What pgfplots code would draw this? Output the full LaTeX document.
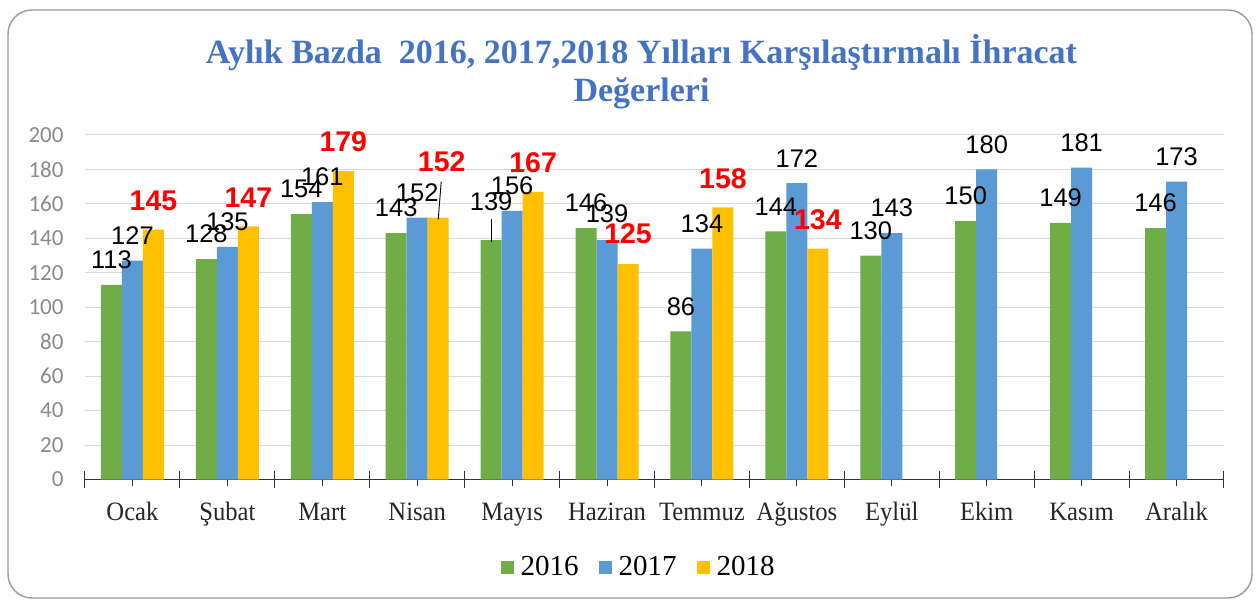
\documentclass[border=0pt]{standalone}
\usepackage{fontspec}
\usepackage{pgfplots}
\pgfplotsset{compat=1.18}
\usepackage{pgfplotstable}
\newfontfamily\labfont{Liberation Sans}
\newfontfamily\tickfont{Carlito}
\newfontfamily\catfont[FakeStretch=0.93]{Liberation Serif}
\newfontfamily\legfont{Liberation Serif}
\newfontfamily\titlefont{Liberation Serif}
\definecolor{g16}{HTML}{70AD47}
\definecolor{b17}{HTML}{5B9BD5}
\definecolor{y18}{HTML}{FFC000}
\definecolor{titleblue}{HTML}{4472C4}
\definecolor{tickgray}{HTML}{8A8A8A}
\definecolor{gridgray}{HTML}{D9D9D9}
\definecolor{labred}{HTML}{FF0000}

% x = month index, y = value, dx/dy = label offset (bp) from bar top
\pgfplotstableread{
x y dx dy
0 113 0 25
1 128 0 25
2 154 0 25
3 143 0 25
4 139 0 38
5 146 0 25
6 86 0 25
7 144 0 25
8 130 0 25
9 150 0 25
10 149 0 25
11 146 0 25
}\tabA
\pgfplotstableread{
x y dx dy
0 127 0 25
1 135 0 25
2 161 0 25
3 152 0 25
4 156 0 25
5 139 0 26
6 134 0 25
7 172 0 25
8 143 0 25
9 180 0 25
10 181 0 25
11 173 0 25
}\tabB
\pgfplotstableread{
x y dx dy
0 145 0 29
1 147 0 29
2 179 0 29
3 152 3.5 56
4 167 0 29
5 125 0 30
6 158 0 29
7 134 0 29
}\tabC

\begin{document}
\begin{tikzpicture}
\useasboundingbox (-85bp,-121.5bp) rectangle (1173bp,479.5bp);
\draw[rounded corners=24bp, color=black!40, line width=1.4bp] (-77bp,-118.5bp) rectangle (1167bp,469.5bp);
\begin{axis}[
  at={(0,0)}, anchor=south west,
  scale only axis, width=1139bp, height=344.5bp,
  xmin=-0.5, xmax=11.5, ymin=0, ymax=200,
  enlargelimits=false, clip=false,
  ybar=0pt, bar width=21bp,
  /pgf/number format/assume math mode=true,
  axis x line*=bottom, axis y line*=left,
  y axis line style={draw=none},
  x axis line style={black!80, line width=1bp},
  ymajorgrids, grid style={draw=gridgray, line width=1bp},
  ytick={0,20,...,200},
  ytick style={draw=none},
  xtick={0,...,11},
  xticklabels={Ocak,Şubat,Mart,Nisan,Mayıs,Haziran,Temmuz,Ağustos,Eylül,Ekim,Kasım,Aralık},
  minor xtick={-0.5,0.5,...,11.5},
  xtick align=center,
  major tick length=12bp, minor tick length=17bp,
  x tick style={black!80, line width=1bp},
  minor x tick style={black!80, line width=1bp},
  xticklabel style={font=\catfont\fontsize{26.5bp}{30bp}\selectfont, text=black!85, anchor=base, yshift=-35bp},
  yticklabel style={font=\tickfont\fontsize{23bp}{27bp}\selectfont, text=tickgray, anchor=east, xshift=-18bp},
  title={Aylık Bazda\ \ 2016, 2017,2018 Yılları Karşılaştırmalı İhracat\\Değerleri},
  title style={at={(0.4886,1.165)}, anchor=center, align=center,
    font=\titlefont\bfseries\fontsize{34bp}{38bp}\selectfont, text=titleblue},
  legend style={at={(0.486,-0.254)}, anchor=center, draw=none, fill=none,
    legend columns=3, font=\legfont\fontsize{29bp}{34bp}\selectfont,
    /tikz/every odd column/.append style={column sep=5bp},
    /tikz/every even column/.append style={column sep=18bp},
    legend cell align=left},
]
\addplot[fill=g16, draw=none,
  legend image code/.code={\path[fill=g16] (0bp,-6.5bp) rectangle (13bp,6.5bp);},
  visualization depends on={\thisrow{dx}\as\ldx},
  visualization depends on={\thisrow{dy}\as\ldy},
  nodes near coords,
  nodes near coords style={anchor=center, inner sep=0pt, xshift=\ldx bp, yshift=\ldy bp,
    font=\labfont\fontsize{25.5bp}{30bp}\selectfont, text=black}]
  table[x=x, y=y] {\tabA};
\addplot[fill=b17, draw=none,
  legend image code/.code={\path[fill=b17] (0bp,-6.5bp) rectangle (13bp,6.5bp);},
  visualization depends on={\thisrow{dx}\as\ldx},
  visualization depends on={\thisrow{dy}\as\ldy},
  nodes near coords,
  nodes near coords style={anchor=center, inner sep=0pt, xshift=\ldx bp, yshift=\ldy bp,
    font=\labfont\fontsize{25.5bp}{30bp}\selectfont, text=black}]
  table[x=x, y=y] {\tabB};
\addplot[fill=y18, draw=none,
  legend image code/.code={\path[fill=y18] (0bp,-6.5bp) rectangle (13bp,6.5bp);},
  visualization depends on={\thisrow{dx}\as\ldx},
  visualization depends on={\thisrow{dy}\as\ldy},
  nodes near coords,
  nodes near coords style={anchor=center, inner sep=0pt, xshift=\ldx bp, yshift=\ldy bp,
    font=\labfont\bfseries\fontsize{28.5bp}{33bp}\selectfont, text=labred}]
  table[x=x, y=y] {\tabC};
\legend{2016,2017,2018}
% leader lines of two displaced labels
\draw[black, line width=0.9bp] ([shift={(21bp,-2bp)}]axis cs:3,152) -- ([shift={(24bp,36bp)}]axis cs:3,152);
\draw[black, line width=0.9bp] ([shift={(-21bp,-2bp)}]axis cs:4,139) -- ([shift={(-21bp,21bp)}]axis cs:4,139);
\end{axis}
\end{tikzpicture}
\end{document}
